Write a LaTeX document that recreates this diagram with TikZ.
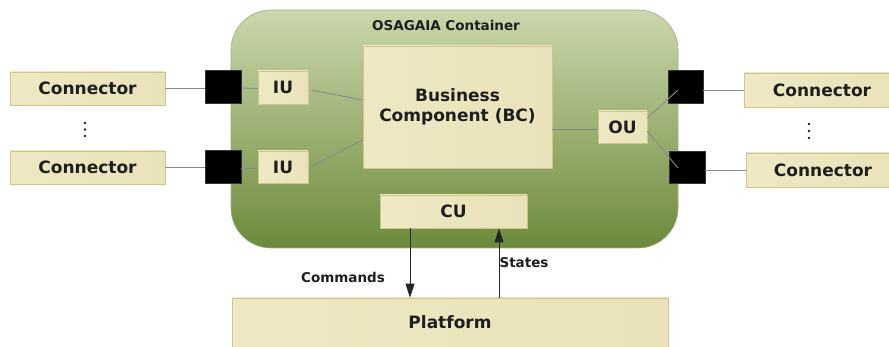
\documentclass[tikz,border=0pt]{standalone}
\usepackage{fontspec}
\setmainfont{DejaVu Sans}
\usetikzlibrary{arrows.meta}
\pgfdeclarelayer{bg}
\pgfsetlayers{bg,main}
\definecolor{boxfillL}{HTML}{EEE9C3}
\definecolor{boxfillR}{HTML}{E9E2BA}
\definecolor{boxdraw}{HTML}{D3C28A}
\definecolor{contTop}{HTML}{CBD7AC}
\definecolor{contBot}{HTML}{6C8A3B}
\definecolor{contDraw}{HTML}{9FAE86}
\definecolor{linegray}{HTML}{8A8A8A}
\definecolor{txt}{HTML}{1E1E1E}
\tikzset{
  ybox/.style={draw=boxdraw, line width=0.8pt, left color=boxfillL, right color=boxfillR,
    font=\bfseries\fontsize{17}{20}\selectfont, text=txt, inner sep=0pt, align=center},
  port/.style={draw=black!80, fill=black, inner sep=0pt},
  wire/.style={draw=linegray, line width=0.9pt},
  flow/.style={draw=black!85, line width=0.9pt, -{Triangle[width=9pt,length=14pt]}},
  smalltxt/.style={font=\bfseries\fontsize{13.5}{16}\selectfont, text=txt, inner sep=0pt},
  dotmark/.style={circle, fill=txt, inner sep=0pt, minimum size=2.8pt}
}
\begin{document}
\begin{tikzpicture}[x=1pt,y=-1pt]
\useasboundingbox (0,0) rectangle (889,347);
% container
\shade[rounded corners=40pt, top color=contTop, bottom color=contBot]
  (231,10) rectangle (678,248);
\draw[contDraw, line width=0.6pt, rounded corners=40pt] (231,10) rectangle (678,248);
\node[smalltxt] (title) at (446,25) {OSAGAIA Container};

% left connectors
\node[ybox, minimum width=155pt, minimum height=33pt] (CL1) at (87.5,88.5) {Connector};
\node[ybox, minimum width=155pt, minimum height=33pt] (CL2) at (87.5,167.5) {Connector};
\node[port, minimum width=36pt, minimum height=33pt] (PL1) at (223,86.5) {};
\node[port, minimum width=36pt, minimum height=33pt] (PL2) at (223,166.5) {};
\node[ybox, minimum width=50pt, minimum height=33pt] (IU1) at (283,87.5) {IU};
\node[ybox, minimum width=50pt, minimum height=32pt] (IU2) at (283,167) {IU};

% business component
\node[ybox, minimum width=189pt, minimum height=122pt] (BC) at (457.5,107) {Business\\Component (BC)};
\node[ybox, minimum width=49pt, minimum height=32pt] (OU) at (622.5,127) {OU};

% right side
\node[port, minimum width=35pt, minimum height=33pt] (PR1) at (685.5,86.5) {};
\node[port, minimum width=36pt, minimum height=32pt] (PR2) at (687,167) {};
\node[ybox, minimum width=156pt, minimum height=34pt] (CR1) at (822,90) {Connector};
\node[ybox, minimum width=154pt, minimum height=34pt] (CR2) at (823,170) {Connector};

% CU and platform
\node[ybox, minimum width=147pt, minimum height=33pt] (CU) at (453.5,211.5) {CU};
\node[ybox, minimum width=436pt, minimum height=49pt] (PF) at (450,322.5) {Platform};

% wires (behind)
\begin{pgfonlayer}{bg}
\end{pgfonlayer}
\draw[wire] (CL1.east) -- (PL1.west |- CL1.east);
\draw[wire] (CL2.east) -- (PL2.west |- CL2.east);
\draw[wire] ([yshift=-1.5pt]PL1.east) -- ([yshift=-1pt]IU1.west);
\draw[wire] ([yshift=-1.5pt]PL2.east) -- ([yshift=-1pt]IU2.west);
\draw[wire, shorten <=3pt] ([yshift=-2pt]IU1.east) -- ([yshift=7pt]BC.west);
\draw[wire, shorten <=3pt] ([yshift=-1pt]IU2.east) -- ([yshift=-33pt]BC.west);
\draw[wire] ([yshift=-22pt]BC.east) -- ([yshift=-2pt]OU.west);
\coordinate (OR1) at (678,90);
\coordinate (OR2) at (678,168);
\draw[wire] ([yshift=9pt]OU.east) -- (OR1);
\draw[wire] ([yshift=-4pt]OU.east) -- (OR2);
\draw[wire] (PR1.east |- CR1.west) -- (CR1.west);
\draw[wire] (PR2.east |- CR2.west) -- (CR2.west);

% dots
\node[dotmark] (dl1) at (85,123) {};
\node[dotmark] (dl2) at (85,129.5) {};
\node[dotmark] (dl3) at (85,136) {};
\node[dotmark] (dr1) at (809,124) {};
\node[dotmark] (dr2) at (809,131) {};
\node[dotmark] (dr3) at (809,138) {};

% flows
\draw[flow] ([xshift=-43.5pt]CU.south) -- ([xshift=-43.5pt]CU.south |- PF.north);
\draw[flow] ([xshift=45.5pt]CU.south |- PF.north) -- ([xshift=45.5pt]CU.south);
\node[smalltxt] (cmd) at (343,277) {Commands};
\node[smalltxt] (st) at (524,263) {States};
\end{tikzpicture}
\end{document}
